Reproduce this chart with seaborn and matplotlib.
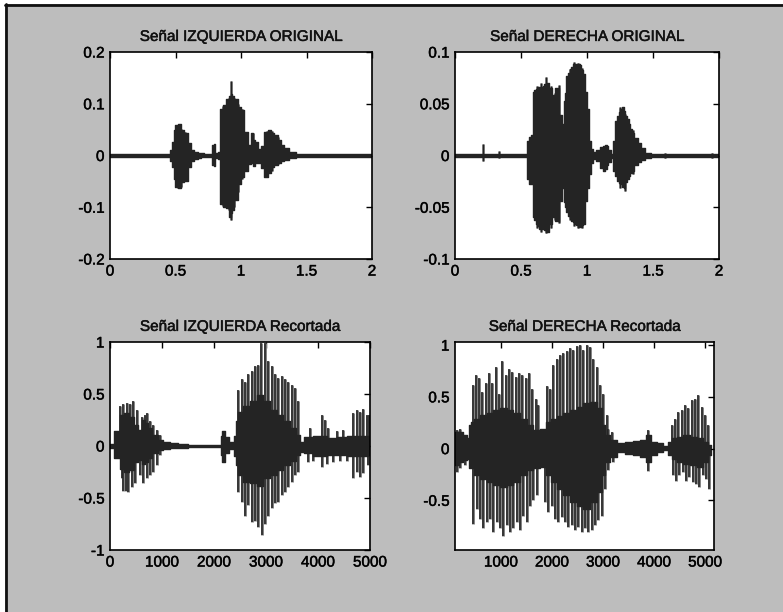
import matplotlib
matplotlib.use("Agg")
import matplotlib.pyplot as plt
import matplotlib.patheffects as pe
from matplotlib.lines import Line2D
from matplotlib.patches import Rectangle
import seaborn as sns

# ---- Señal IZQUIERDA ORIGINAL (tiempo en s) ----
t_izq = [0.0, 0.45, 0.467, 0.48, 0.492, 0.505, 0.53, 0.556, 0.581, 0.607, 0.632, 0.657,
         0.683, 0.708, 0.733, 0.77, 0.784, 0.797, 0.81, 0.835, 0.848, 0.873, 0.898, 0.916,
         0.931, 0.937, 0.962, 0.987, 1.013, 1.038, 1.063, 1.089, 1.1, 1.114, 1.14, 1.165,
         1.19, 1.216, 1.241, 1.266, 1.292, 1.317, 1.343, 1.393, 1.444, 1.47, 2.0]
izq_hi = [0.003, 0.003, 0.01, 0.027, 0.05, 0.058, 0.06, 0.049, 0.043, 0.024, 0.011, 0.007,
          0.005, 0.004, 0.003, 0.003, 0.02, 0.022, 0.004, 0.006, 0.09, 0.097, 0.109, 0.115,
          0.118, 0.115, 0.109, 0.093, 0.087, 0.046, 0.021, 0.043, 0.03, 0.027, 0.012, 0.018,
          0.046, 0.049, 0.043, 0.04, 0.03, 0.021, 0.015, 0.007, 0.003, 0.003, 0.003]
izq_lo = [-0.003, -0.003, -0.01, -0.023, -0.045, -0.061, -0.062, -0.052, -0.049, -0.023, -0.011, -0.006,
          -0.004, -0.003, -0.003, -0.003, -0.018, -0.02, -0.004, -0.006, -0.093, -0.099, -0.102, -0.118,
          -0.112, -0.105, -0.086, -0.055, -0.042, -0.03, -0.017, -0.014, -0.02, -0.014, -0.014, -0.025,
          -0.042, -0.033, -0.023, -0.018, -0.014, -0.01, -0.008, -0.005, -0.003, -0.003, -0.003]
izq_spk_t = [0.52, 0.545, 0.575, 0.86, 0.905, 0.922, 0.95, 0.975, 1.005, 1.09, 1.2, 1.235, 1.28]
izq_spk_hi = [0.057, 0.052, 0.045, 0.095, 0.112, 0.144, 0.112, 0.1, 0.09, 0.043, 0.048, 0.047, 0.035]
izq_spk_lo = [-0.063, -0.06, -0.05, -0.098, -0.105, -0.125, -0.1, -0.07, -0.045, -0.015, -0.04, -0.03, -0.016]

# ---- Señal DERECHA ORIGINAL (tiempo en s) ----
t_der = [0.0, 0.54, 0.548, 0.569, 0.582, 0.594, 0.607, 0.62, 0.633, 0.645, 0.658, 0.671, 0.684,
         0.696, 0.722, 0.747, 0.773, 0.798, 0.819, 0.829, 0.837, 0.849, 0.862, 0.875, 0.888, 0.9,
         0.913, 0.926, 0.939, 0.952, 0.964, 0.977, 0.99, 1.003, 1.023, 1.041, 1.054, 1.079, 1.117,
         1.13, 1.143, 1.156, 1.168, 1.194, 1.207, 1.219, 1.232, 1.245, 1.258, 1.27, 1.283, 1.296,
         1.309, 1.321, 1.334, 1.347, 1.372, 1.398, 1.423, 1.462, 1.5, 2.0]
der_hi = [0.0015, 0.0015, 0.014, 0.018, 0.02, 0.061, 0.063, 0.064, 0.066, 0.066, 0.066, 0.067, 0.069,
          0.07, 0.065, 0.058, 0.065, 0.039, 0.03, 0.053, 0.06, 0.077, 0.08, 0.084, 0.086, 0.088,
          0.088, 0.088, 0.088, 0.087, 0.083, 0.079, 0.061, 0.045, 0.014, 0.006, 0.003, 0.005, 0.008,
          0.009, 0.0105, 0.009, 0.005, 0.001, 0.014, 0.033, 0.038, 0.042, 0.045, 0.047, 0.043, 0.038,
          0.035, 0.03, 0.026, 0.022, 0.017, 0.012, 0.007, 0.0025, 0.0015, 0.0015]
der_lo = [-0.0015, -0.0015, -0.023, -0.028, -0.028, -0.059, -0.062, -0.066, -0.068, -0.071, -0.071, -0.071, -0.072,
          -0.074, -0.066, -0.059, -0.063, -0.044, -0.031, -0.045, -0.05, -0.055, -0.058, -0.06, -0.063, -0.064,
          -0.066, -0.067, -0.069, -0.069, -0.067, -0.066, -0.044, -0.031, -0.018, -0.007, -0.003, -0.0054, -0.012,
          -0.015, -0.013, -0.009, -0.006, -0.002, -0.015, -0.02, -0.025, -0.027, -0.028, -0.03, -0.031, -0.026,
          -0.023, -0.02, -0.017, -0.015, -0.009, -0.006, -0.004, -0.0025, -0.0015, -0.0015]
der_spk_t = [0.212, 0.335, 0.62, 0.65, 0.69, 0.73, 0.76, 0.79, 0.87, 0.905, 0.93, 0.96, 1.25, 1.29, 1.35, 1.59, 1.946]
der_spk_hi = [0.011, 0.004, 0.067, 0.07, 0.076, 0.067, 0.06, 0.068, 0.084, 0.09, 0.089, 0.085, 0.047, 0.04, 0.025, 0.002, 0.002]
der_spk_lo = [-0.0054, -0.002, -0.07, -0.074, -0.075, -0.07, -0.062, -0.065, -0.062, -0.068, -0.07, -0.07, -0.031, -0.034, -0.018, -0.002, -0.002]

# ---- Señal IZQUIERDA Recortada (muestras) ----
n_izq = [0, 160, 224, 320, 417, 513, 577, 641, 705, 769, 865, 962, 1090, 1218, 1410, 1603, 1859,
         2115, 2147, 2179, 2244, 2340, 2375, 2404, 2436, 2500, 2628, 2756, 2885, 3013, 3141, 3269,
         3397, 3526, 3622, 3686, 3782, 4038, 4295, 4423, 4679, 4936, 5000]
rizq_hi = [0.02, 0.14, 0.3, 0.32, 0.28, 0.2, 0.15, 0.25, 0.22, 0.17, 0.11, 0.06, 0.04, 0.026, 0.02, 0.01, 0.008,
           0.008, 0.1, 0.14, 0.09, 0.04, 0.02, 0.1, 0.24, 0.33, 0.38, 0.43, 0.49, 0.43, 0.35, 0.3,
           0.24, 0.17, 0.11, 0.04, 0.09, 0.1, 0.075, 0.09, 0.1, 0.1, 0.1]
rizq_lo = [-0.02, -0.12, -0.22, -0.25, -0.23, -0.15, -0.135, -0.17, -0.15, -0.12, -0.07, -0.04, -0.03, -0.023, -0.016, -0.01, -0.008,
           -0.008, -0.09, -0.15, -0.07, -0.03, -0.02, -0.1, -0.18, -0.28, -0.35, -0.36, -0.38, -0.31, -0.28, -0.23,
           -0.18, -0.14, -0.09, -0.055, -0.07, -0.1, -0.09, -0.09, -0.095, -0.1, -0.09]
rizq_up_n = [192, 256, 320, 385, 449, 513, 609, 673, 705, 769, 833, 897, 962, 2468, 2532, 2596, 2660,
             2724, 2788, 2852, 2904, 2981, 3045, 3109, 3173, 3237, 3301, 3365, 3429, 3494, 3558, 3622,
             3846, 4070, 4134, 4199, 4359, 4487, 4679, 4743, 4808, 4872, 4936, 4981]
rizq_up_v = [0.38, 0.4, 0.41, 0.4, 0.43, 0.35, 0.28, 0.3, 0.32, 0.24, 0.2, 0.15, 0.11, 0.54, 0.64, 0.62, 0.69,
             0.72, 0.77, 0.78, 0.99, 0.99, 0.82, 0.77, 0.69, 0.65, 0.67, 0.64, 0.62, 0.59, 0.56, 0.43,
             0.17, 0.3, 0.25, 0.17, 0.14, 0.15, 0.32, 0.35, 0.33, 0.36, 0.3, 0.3]
rizq_dn_n = [224, 256, 308, 353, 417, 481, 577, 641, 705, 769, 833, 897, 962, 2468, 2532, 2596, 2660,
             2724, 2788, 2852, 2917, 2981, 3045, 3109, 3173, 3237, 3301, 3365, 3429, 3494, 3558, 3622,
             3814, 3910, 4070, 4167, 4295, 4423, 4551, 4679, 4743, 4808, 4872, 4968]
rizq_dn_v = [-0.31, -0.43, -0.43, -0.44, -0.39, -0.36, -0.28, -0.36, -0.31, -0.28, -0.25, -0.18, -0.09, -0.44, -0.54, -0.67, -0.57,
             -0.73, -0.72, -0.78, -0.86, -0.75, -0.67, -0.6, -0.55, -0.54, -0.47, -0.44, -0.39, -0.35, -0.28, -0.25,
             -0.15, -0.14, -0.2, -0.17, -0.15, -0.14, -0.14, -0.31, -0.25, -0.3, -0.26, -0.18]

# ---- Señal DERECHA Recortada (muestras) ----
n_der = [99, 131, 229, 295, 360, 406, 425, 523, 654, 785, 915, 1046, 1176, 1307, 1438, 1568, 1699,
         1829, 1927, 2025, 2156, 2286, 2417, 2548, 2678, 2809, 2939, 3005, 3070, 3201, 3331, 3527,
         3658, 3788, 3886, 3984, 4115, 4245, 4311, 4376, 4507, 4637, 4768, 4898, 5029, 5094, 5120]
rder_hi = [0.16, 0.16, 0.16, 0.13, 0.1, 0.23, 0.26, 0.29, 0.32, 0.34, 0.37, 0.39, 0.37, 0.34, 0.29, 0.23, 0.18,
           0.19, 0.26, 0.29, 0.31, 0.34, 0.37, 0.4, 0.44, 0.45, 0.39, 0.23, 0.13, 0.08, 0.05, 0.06,
           0.07, 0.08, 0.13, 0.06, 0.05, 0.026, 0.06, 0.1, 0.11, 0.13, 0.11, 0.1, 0.06, 0.03, 0.01]
rder_lo = [-0.16, -0.16, -0.13, -0.11, -0.1, -0.19, -0.19, -0.26, -0.29, -0.32, -0.35, -0.37, -0.35, -0.32, -0.26, -0.21, -0.19,
           -0.18, -0.26, -0.32, -0.39, -0.45, -0.52, -0.55, -0.58, -0.52, -0.42, -0.26, -0.13, -0.08, -0.03, -0.05,
           -0.06, -0.08, -0.13, -0.06, -0.03, -0.016, -0.06, -0.1, -0.13, -0.15, -0.16, -0.18, -0.13, -0.06, -0.01]
rder_up_n = [131, 197, 458, 510, 576, 634, 700, 765, 830, 896, 961, 1026, 1091, 1157, 1222, 1287, 1353,
             1418, 1483, 1549, 1614, 1679, 1731, 1895, 1960, 2025, 2091, 2156, 2221, 2286, 2352, 2417,
             2482, 2548, 2613, 2678, 2744, 2809, 2874, 2939, 3005, 3070, 3103, 3168, 3873, 4343, 4409,
             4474, 4539, 4605, 4670, 4735, 4800, 4866, 4931, 4996, 5062]
rder_up_v = [0.18, 0.19, 0.61, 0.71, 0.68, 0.55, 0.63, 0.73, 0.63, 0.79, 0.53, 0.85, 0.71, 0.77, 0.74, 0.69, 0.73,
             0.71, 0.68, 0.73, 0.58, 0.48, 0.42, 0.6, 0.58, 0.81, 0.87, 0.9, 0.92, 0.94, 0.97, 0.95,
             0.99, 1.0, 0.95, 1.0, 0.98, 0.87, 0.79, 0.61, 0.53, 0.32, 0.19, 0.16, 0.18, 0.23, 0.29,
             0.35, 0.37, 0.42, 0.39, 0.47, 0.48, 0.52, 0.4, 0.32, 0.23]
rder_dn_n = [131, 197, 295, 458, 523, 589, 654, 719, 785, 850, 915, 980, 1046, 1111, 1176, 1242, 1307,
             1372, 1438, 1503, 1568, 1633, 1699, 1862, 1927, 1993, 2058, 2123, 2188, 2254, 2319, 2384,
             2450, 2515, 2580, 2646, 2711, 2776, 2841, 2907, 2972, 3037, 3103, 3201, 3873, 4363, 4428,
             4494, 4559, 4624, 4689, 4755, 4820, 4885, 4951, 5016, 5081]
rder_dn_v = [-0.23, -0.19, -0.16, -0.73, -0.58, -0.68, -0.77, -0.71, -0.68, -0.81, -0.71, -0.77, -0.84, -0.74, -0.81, -0.77, -0.71,
             -0.79, -0.65, -0.71, -0.55, -0.5, -0.45, -0.52, -0.61, -0.55, -0.68, -0.71, -0.66, -0.71, -0.76, -0.74,
             -0.79, -0.76, -0.81, -0.77, -0.81, -0.79, -0.74, -0.69, -0.65, -0.39, -0.21, -0.13, -0.22, -0.26, -0.31,
             -0.26, -0.23, -0.31, -0.27, -0.32, -0.34, -0.37, -0.26, -0.29, -0.39]

# ---- ejes ----
titles = ["Señal IZQUIERDA ORIGINAL", "Señal DERECHA ORIGINAL",
          "Señal IZQUIERDA Recortada", "Señal DERECHA Recortada"]
xt_orig = [0, 0.5, 1, 1.5, 2]
xt_orig_lbl = ["0", "0.5", "1", "1.5", "2"]
yt_izq = [-0.2, -0.1, 0, 0.1, 0.2]
yt_izq_lbl = ["-0.2", "-0.1", "0", "0.1", "0.2"]
yt_der = [-0.1, -0.05, 0, 0.05, 0.1]
yt_der_lbl = ["-0.1", "-0.05", "0", "0.05", "0.1"]
xt_rizq = [0, 1000, 2000, 3000, 4000, 5000]
xt_rizq_lbl = ["0", "1000", "2000", "3000", "4000", "5000"]
yt_rizq = [-1, -0.5, 0, 0.5, 1]
yt_rizq_lbl = ["-1", "-0.5", "0", "0.5", "1"]
xt_rder = [1000, 2000, 3000, 4000, 5000]
xt_rder_lbl = ["1000", "2000", "3000", "4000", "5000"]
yt_rder = [-0.5, 0, 0.5, 1]
yt_rder_lbl = ["-0.5", "0", "0.5", "1"]

CORE = "#242424"
SPIKE_EDGE = "#808080"
SPIKE = "#222222"
BG = "#bdbdbd"

sns.set_style("white")
plt.rcParams["font.family"] = ["Liberation Sans", "DejaVu Sans"]
heavy = [pe.withStroke(linewidth=0.35, foreground="#111111")]

fig = plt.figure(figsize=(7.83, 6.12), dpi=100, facecolor="white")
fig.add_artist(Rectangle((5 / 783, 0), 1, 1 - 4 / 612, transform=fig.transFigure,
                         facecolor=BG, edgecolor="none", zorder=-10))
fig.add_artist(Line2D([5 / 783, 1], [1 - 4.5 / 612, 1 - 4.5 / 612], transform=fig.transFigure,
                      color="#111111", lw=2))
fig.add_artist(Line2D([5.5 / 783, 5.5 / 783], [0, 1 - 4 / 612], transform=fig.transFigure,
                      color="#111111", lw=2))

boxes = [[0.1405, 0.5768, 0.3346, 0.3382], [0.5811, 0.5768, 0.3372, 0.3382],
         [0.1405, 0.1013, 0.3320, 0.3399], [0.5811, 0.1013, 0.3308, 0.3399]]
axes = [fig.add_axes(b) for b in boxes]


def draw(ax, x, hi, lo, up_x, up_y, dn_x, dn_y, lw):
    # spikes first, dense core drawn over them
    ax.vlines(up_x, 0, up_y, color=SPIKE_EDGE, lw=lw + 1.0, zorder=1)
    ax.vlines(dn_x, dn_y, 0, color=SPIKE_EDGE, lw=lw + 1.0, zorder=1)
    ax.vlines(up_x, 0, up_y, color=SPIKE, lw=lw, zorder=1.1)
    ax.vlines(dn_x, dn_y, 0, color=SPIKE, lw=lw, zorder=1.1)
    ax.fill_between(x, lo, hi, color=CORE, lw=0, step="mid", zorder=2)
    sns.lineplot(x=x, y=hi, ax=ax, color=CORE, lw=1.0, sort=False, drawstyle="steps-mid", zorder=2.1)
    sns.lineplot(x=x, y=lo, ax=ax, color=CORE, lw=1.0, sort=False, drawstyle="steps-mid", zorder=2.1)


draw(axes[0], t_izq, izq_hi, izq_lo, izq_spk_t, izq_spk_hi, izq_spk_t, izq_spk_lo, 1.0)
draw(axes[1], t_der, der_hi, der_lo, der_spk_t, der_spk_hi, der_spk_t, der_spk_lo, 1.0)
draw(axes[2], n_izq, rizq_hi, rizq_lo, rizq_up_n, rizq_up_v, rizq_dn_n, rizq_dn_v, 1.1)
draw(axes[3], n_der, rder_hi, rder_lo, rder_up_n, rder_up_v, rder_dn_n, rder_dn_v, 1.1)

settings = [
    ((0, 2), (-0.2, 0.2), xt_orig, xt_orig_lbl, yt_izq, yt_izq_lbl),
    ((0, 2), (-0.1, 0.1), xt_orig, xt_orig_lbl, yt_der, yt_der_lbl),
    ((0, 5000), (-1, 1), xt_rizq, xt_rizq_lbl, yt_rizq, yt_rizq_lbl),
    ((100, 5175), (-0.98, 1.03), xt_rder, xt_rder_lbl, yt_rder, yt_rder_lbl),
]

for ax, title, (xl, yl, xt, xtl, yt, ytl) in zip(axes, titles, settings):
    ax.set_facecolor("white")
    ax.set_xlim(*xl)
    ax.set_ylim(*yl)
    ax.set_xticks(xt)
    ax.set_xticklabels(xtl)
    ax.set_yticks(yt)
    ax.set_yticklabels(ytl)
    ax.set_xlabel("")
    ax.set_ylabel("")
    ax.tick_params(direction="in", length=4, width=1, top=True, right=True,
                   labelsize=11, pad=4, colors="black")
    for lbl in ax.get_xticklabels() + ax.get_yticklabels():
        lbl.set_path_effects(heavy)
    for sp in ax.spines.values():
        sp.set_visible(True)
        sp.set_color("black")
        sp.set_linewidth(1.2)
        sp.set_zorder(5)
    t = ax.set_title(title, fontsize=11, pad=8, color="#111111")
    t.set_path_effects(heavy)

fig.savefig("out.png", dpi=100, facecolor=fig.get_facecolor())
